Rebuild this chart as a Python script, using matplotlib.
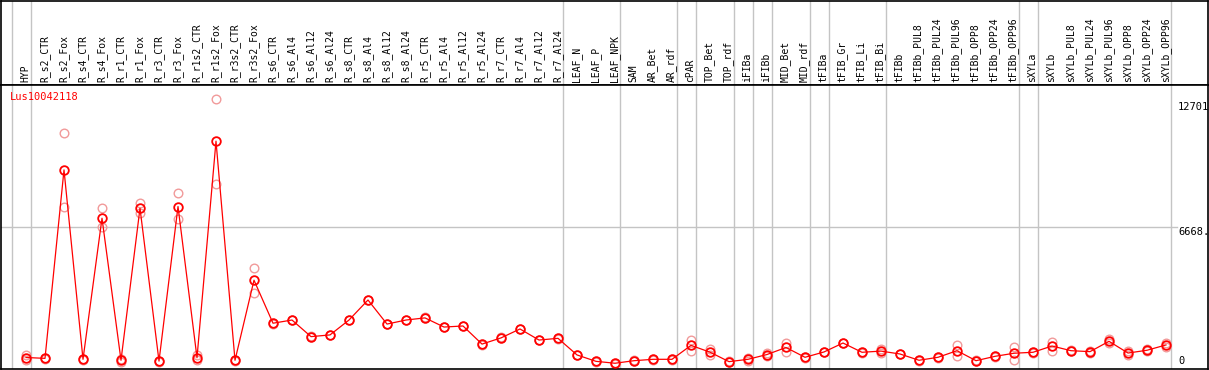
import matplotlib
matplotlib.use("Agg")
import matplotlib.pyplot as plt
import numpy as np

gene = "Lus10042118"

samples = [
    "HYP", "R_s2_CTR", "R_s2_Fox", "R_s4_CTR", "R_s4_Fox", "R_r1_CTR", "R_r1_Fox",
    "R_r3_CTR", "R_r3_Fox", "R_r1s2_CTR", "R_r1s2_Fox", "R_r3s2_CTR", "R_r3s2_Fox",
    "R_s6_CTR", "R_s6_Al4", "R_s6_Al12", "R_s6_Al24", "R_s8_CTR", "R_s8_Al4",
    "R_s8_Al12", "R_s8_Al24", "R_r5_CTR", "R_r5_Al4", "R_r5_Al12", "R_r5_Al24",
    "R_r7_CTR", "R_r7_Al4", "R_r7_Al12", "R_r7_Al24", "LEAF_N", "LEAF_P", "LEAF_NPK",
    "SAM", "AR_Bet", "AR_rdf", "cPAR", "TOP_Bet", "TOP_rdf", "iFIBa", "iFIBb",
    "MID_Bet", "MID_rdf", "tFIBa", "tFIB_Gr", "tFIB_Li", "tFIB_Bi", "tFIBb",
    "tFIBb_PUL8", "tFIBb_PUL24", "tFIBb_PUL96", "tFIBb_OPP8", "tFIBb_OPP24",
    "tFIBb_OPP96", "sXYLa", "sXYLb", "sXYLb_PUL8", "sXYLb_PUL24", "sXYLb_PUL96",
    "sXYLb_OPP8", "sXYLb_OPP24", "sXYLb_OPP96",
]

mean_expr = [
    540, 500, 9350, 455, 7080, 410, 7550, 370, 7630, 530, 10700, 410, 4170,
    2150, 2300, 1520, 1600, 2300, 3240, 2110, 2300, 2400, 1970, 2020, 1170,
    1460, 1880, 1360, 1440, 660, 360, 270, 390, 455, 455, 1110, 790, 345,
    455, 680, 1010, 550, 800, 1220, 785, 840, 705, 410, 550, 860, 390, 595,
    740, 785, 1080, 860, 815, 1300, 750, 880, 1130,
]

rep_hi = [
    640, 520, 11070, 470, 7550, 480, 7810, 390, 8250, 640, 12701, 430, 4730,
    2170, 2320, 1540, 1620, 2320, 3260, 2130, 2320, 2420, 1990, 2040, 1190,
    1480, 1900, 1380, 1460, 680, 380, 290, 410, 475, 475, 1360, 920, 365,
    520, 750, 1220, 570, 820, 1240, 805, 920, 725, 430, 570, 1130, 410, 615,
    1050, 805, 1290, 880, 860, 1400, 830, 920, 1220,
]

rep_lo = [
    440, 480, 7600, 440, 6650, 340, 7310, 350, 7030, 420, 8690, 390, 3560,
    2130, 2280, 1500, 1580, 2280, 3220, 2090, 2280, 2380, 1950, 2000, 1150,
    1440, 1860, 1340, 1420, 640, 340, 250, 370, 435, 435, 850, 650, 325,
    390, 610, 800, 530, 780, 1200, 765, 760, 685, 390, 530, 600, 370, 575,
    430, 765, 850, 840, 770, 1200, 670, 840, 1040,
]

# group separators drawn just after these sample indices
separators_after = [-1, 0, 28, 31, 34, 35, 37, 38, 39, 41, 42, 45, 52, 53, 60]

W, H = 1209, 370
step = 19.0
x0_px = 26.0
xs = np.arange(len(samples))
ymax = max(rep_hi) * 1.05


def px_to_x(px):
    return (px - x0_px) / step


fig = plt.figure(figsize=(W / 100, H / 100), dpi=100)
fig.patch.set_facecolor("white")

left_px, right_px = 1, 1208
ax_head = fig.add_axes([left_px / W, (H - 85) / H, (right_px - left_px) / W, 84.5 / H])
ax = fig.add_axes([left_px / W, 1.0 / H, (right_px - left_px) / W, 84.0 / H * 0 + 284 / H])

xlim = (px_to_x(left_px), px_to_x(right_px))
for a in (ax_head, ax):
    a.set_xlim(*xlim)
    a.set_xticks([])
    a.set_yticks([])
    for s in a.spines.values():
        s.set_color("black")
        s.set_linewidth(1.2)
    for sep in separators_after:
        a.axvline(sep + 0.24, color="#c4c4c4", lw=1.0, zorder=0)

ax_head.set_ylim(0, 85)
for i, name in enumerate(samples):
    ax_head.text(i - 0.03, 3, name, rotation=90, ha="center", va="bottom",
                 family="DejaVu Sans Mono", fontsize=7, color="black")

ax.set_ylim(0, ymax)
ax.plot([xlim[0], px_to_x(1177)], [ymax / 2, ymax / 2], color="#c4c4c4", lw=1.0, zorder=0)

# replicates
ax.plot(xs, rep_hi, "o", ms=6.2, mfc="none", mec="#f19a9a", mew=1.0, zorder=2)
ax.plot(xs, rep_lo, "o", ms=6.2, mfc="none", mec="#f19a9a", mew=1.0, zorder=2)
# mean line
ax.plot(xs, mean_expr, "-", color="red", lw=0.9, zorder=3)
ax.plot(xs, mean_expr, "o", ms=6.2, mfc="none", mec="red", mew=1.3, zorder=4)

fig.text(10 / W, 1 - 97 / H, gene, color="red", family="DejaVu Sans Mono",
         fontsize=7.5, ha="left", va="center")
fig.text(1178 / W, 1 - 107.5 / H, "%d" % max(rep_hi), family="DejaVu Sans Mono",
         fontsize=7.5, ha="left", va="center")
fig.text(1178 / W, 1 - 231.5 / H, ("%.1f" % (ymax / 2))[:5], family="DejaVu Sans Mono",
         fontsize=7.5, ha="left", va="center")
fig.text(1178 / W, 1 - 361.5 / H, "0", family="DejaVu Sans Mono",
         fontsize=7.5, ha="left", va="center")

fig.savefig("out.png", dpi=100)
